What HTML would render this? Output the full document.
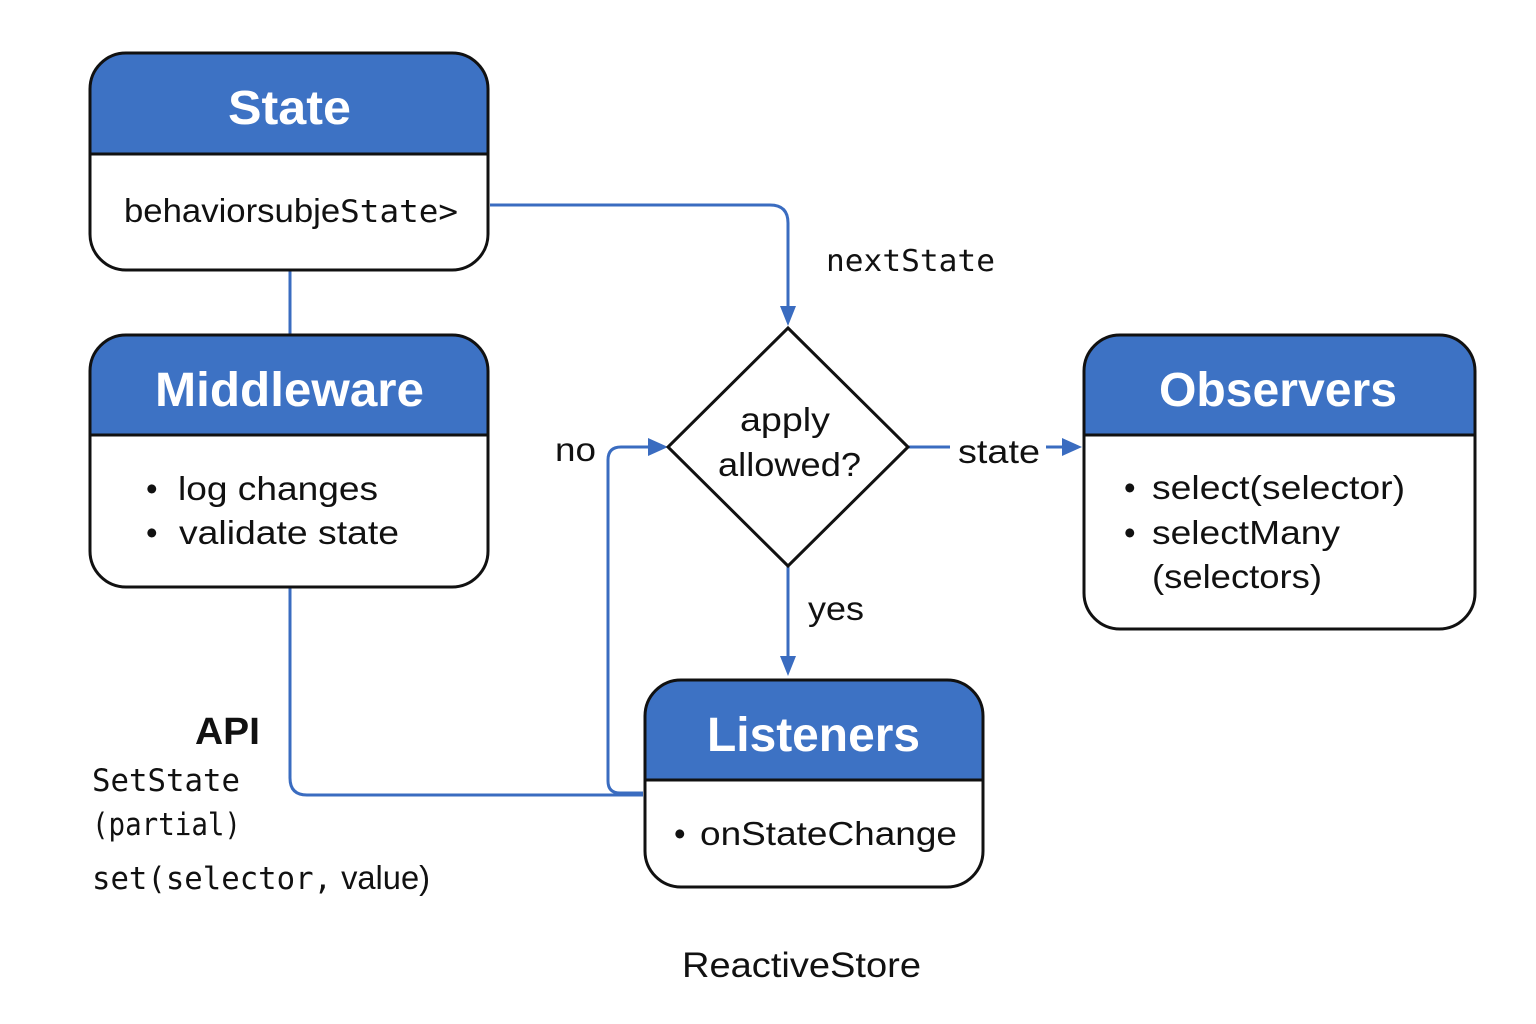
<!DOCTYPE html>
<html><head><meta charset="utf-8"><style>
html,body{margin:0;padding:0;background:#fff;}
svg{display:block}
text{font-family:"Liberation Sans",sans-serif;}
.m{font-family:"DejaVu Sans Mono","Liberation Mono",monospace;}
</style></head><body>
<svg width="1536" height="1024" viewBox="0 0 1536 1024" xmlns="http://www.w3.org/2000/svg">
<defs>
<clipPath id="c1"><rect x="90" y="53" width="398" height="217" rx="36"/></clipPath>
<clipPath id="c2"><rect x="90" y="335" width="398" height="252" rx="36"/></clipPath>
<clipPath id="c3"><rect x="1084" y="335" width="391" height="294" rx="36"/></clipPath>
<clipPath id="c4"><rect x="645" y="680" width="338" height="207" rx="36"/></clipPath>
</defs>
<g fill="none" stroke="#3a6cc0" stroke-width="3">
<path d="M490 205 H770 Q788 205 788 223 V312"/>
<path d="M290 270 V335"/>
<path d="M290 588 V778 Q290 795 307 795 H643"/>
<path d="M643 793 H620 Q608 793 608 781 V460 Q608 447 621 447 H652"/>
<path d="M908 447 H950"/>
<path d="M1046 447 H1068"/>
<path d="M788 566 V660"/>
</g>
<g fill="#3a6cc0">
<polygon points="780,306 796,306 788,326"/>
<polygon points="648,438 648,456 668,447"/>
<polygon points="1062,438 1062,456 1082,447"/>
<polygon points="780,656 796,656 788,676"/>
</g>
<!-- State -->
<g clip-path="url(#c1)"><rect x="90" y="53" width="398" height="101" fill="#3d72c4"/></g>
<line x1="90" y1="154" x2="488" y2="154" stroke="#111" stroke-width="3"/>
<rect x="90" y="53" width="398" height="217" rx="36" fill="none" stroke="#111" stroke-width="3"/>
<text x="228" y="124" font-size="48" font-weight="bold" fill="#fff" textLength="123" lengthAdjust="spacingAndGlyphs">State</text>
<text x="124" y="222" font-size="33" fill="#111" textLength="334" lengthAdjust="spacingAndGlyphs">behaviorsubje<tspan class="m" font-size="31">State&gt;</tspan></text>
<!-- Middleware -->
<g clip-path="url(#c2)"><rect x="90" y="335" width="398" height="100" fill="#3d72c4"/></g>
<line x1="90" y1="435" x2="488" y2="435" stroke="#111" stroke-width="3"/>
<rect x="90" y="335" width="398" height="252" rx="36" fill="none" stroke="#111" stroke-width="3"/>
<text x="155" y="406" font-size="48" font-weight="bold" fill="#fff" textLength="269" lengthAdjust="spacingAndGlyphs">Middleware</text>
<text x="146" y="500" font-size="33" fill="#111">•</text>
<text x="178" y="500" font-size="33" fill="#111" textLength="200" lengthAdjust="spacingAndGlyphs">log changes</text>
<text x="146" y="544" font-size="33" fill="#111">•</text>
<text x="179" y="544" font-size="33" fill="#111" textLength="220" lengthAdjust="spacingAndGlyphs">validate state</text>
<!-- Observers -->
<g clip-path="url(#c3)"><rect x="1084" y="335" width="391" height="100" fill="#3d72c4"/></g>
<line x1="1084" y1="435" x2="1475" y2="435" stroke="#111" stroke-width="3"/>
<rect x="1084" y="335" width="391" height="294" rx="36" fill="none" stroke="#111" stroke-width="3"/>
<text x="1159" y="406" font-size="48" font-weight="bold" fill="#fff" textLength="238" lengthAdjust="spacingAndGlyphs">Observers</text>
<text x="1124" y="499" font-size="33" fill="#111">•</text>
<text x="1152" y="499" font-size="33" fill="#111" textLength="253" lengthAdjust="spacingAndGlyphs">select(selector)</text>
<text x="1124" y="544" font-size="33" fill="#111">•</text>
<text x="1152" y="544" font-size="33" fill="#111" textLength="188" lengthAdjust="spacingAndGlyphs">selectMany</text>
<text x="1152" y="588" font-size="33" fill="#111" textLength="170" lengthAdjust="spacingAndGlyphs">(selectors)</text>
<!-- Listeners -->
<g clip-path="url(#c4)"><rect x="645" y="680" width="338" height="100" fill="#3d72c4"/></g>
<line x1="645" y1="780" x2="983" y2="780" stroke="#111" stroke-width="3"/>
<rect x="645" y="680" width="338" height="207" rx="36" fill="none" stroke="#111" stroke-width="3"/>
<text x="707" y="751" font-size="48" font-weight="bold" fill="#fff" textLength="213" lengthAdjust="spacingAndGlyphs">Listeners</text>
<text x="674" y="845" font-size="33" fill="#111">•</text>
<text x="700" y="845" font-size="33" fill="#111" textLength="257" lengthAdjust="spacingAndGlyphs">onStateChange</text>
<!-- Diamond -->
<polygon points="788,328 908,447 788,566 668,447" fill="#fff" stroke="#111" stroke-width="3"/>
<text x="740" y="431" font-size="33" fill="#111" textLength="90" lengthAdjust="spacingAndGlyphs">apply</text>
<text x="718" y="476" font-size="33" fill="#111" textLength="143" lengthAdjust="spacingAndGlyphs">allowed?</text>
<!-- labels -->
<text x="826" y="271" class="m" font-size="30" fill="#111" textLength="169" lengthAdjust="spacingAndGlyphs">nextState</text>
<text x="555" y="461" font-size="33" fill="#111" textLength="41" lengthAdjust="spacingAndGlyphs">no</text>
<text x="958" y="463" font-size="33" fill="#111" textLength="82" lengthAdjust="spacingAndGlyphs">state</text>
<text x="808" y="620" font-size="33" fill="#111" textLength="56" lengthAdjust="spacingAndGlyphs">yes</text>
<text x="195" y="744" font-size="38" font-weight="bold" fill="#111" textLength="65" lengthAdjust="spacingAndGlyphs">API</text>
<text x="92" y="791" class="m" font-size="31" fill="#111" textLength="148" lengthAdjust="spacingAndGlyphs">SetState</text>
<text x="92" y="835" class="m" font-size="31" fill="#111" textLength="149" lengthAdjust="spacingAndGlyphs">(partial)</text>
<text x="92" y="889" fill="#111" textLength="338" lengthAdjust="spacingAndGlyphs"><tspan class="m" font-size="31">set(selector,</tspan><tspan font-size="33"> value)</tspan></text>
<text x="682" y="977" font-size="35" fill="#111" textLength="239" lengthAdjust="spacingAndGlyphs">ReactiveStore</text>
</svg>
</body></html>
